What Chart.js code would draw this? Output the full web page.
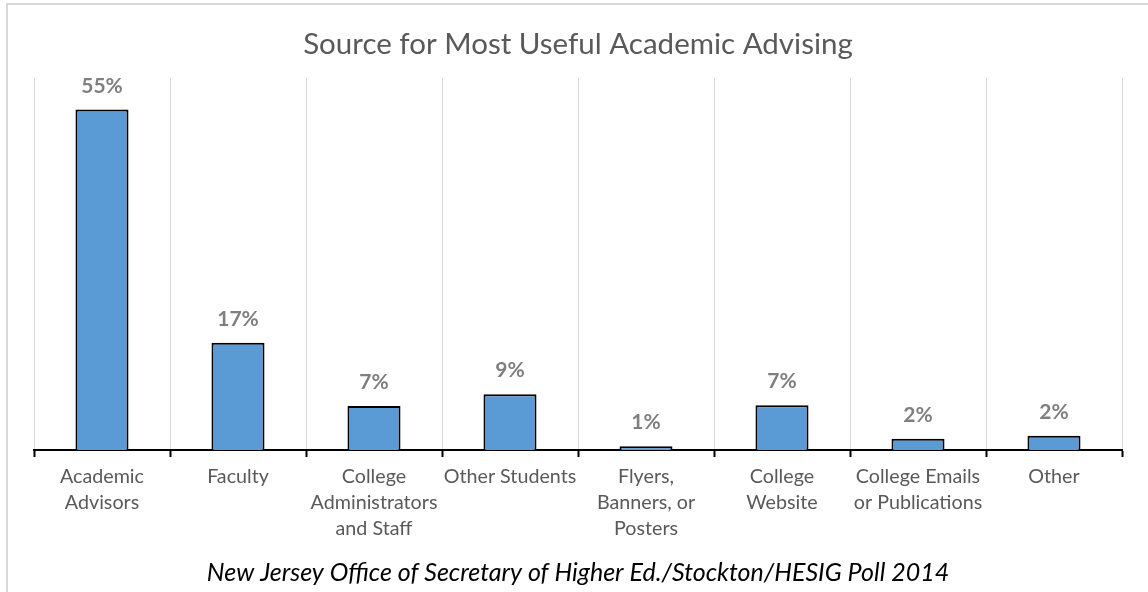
<!DOCTYPE html>
<html><head><meta charset="utf-8">
<script src="https://cdn.jsdelivr.net/npm/chart.js@4"></script>
<style>
html,body{margin:0;padding:0;background:#fff;overflow:hidden;width:1148px;height:592px}
#frame{position:absolute;left:6px;top:3px;width:1300px;height:800px;border-left:2px solid #d9d9d9;border-top:2px solid #d9d9d9;}
#wrap{position:absolute;left:0;top:0;width:1148px;height:592px}
</style></head>
<body>
<div id="frame"></div>
<div id="wrap"><canvas id="c" width="1148" height="592"></canvas></div>
<script>
const chartTitle = "Source for Most Useful Academic Advising";
const sourceNote = "New Jersey Office of Secretary of Higher Ed./Stockton/HESIG Poll 2014";
const categories = [
  ["Academic","Advisors"],
  ["Faculty"],
  ["College","Administrators","and Staff"],
  ["Other Students"],
  ["Flyers,","Banners, or","Posters"],
  ["College","Website"],
  ["College Emails","or Publications"],
  ["Other"]
];
const shares = [54.9, 17.3, 7.1, 9.0, 0.6, 7.2, 1.8, 2.3];
const axisMin = 0;
const axisMax = 60;

const dataLabels = {
  id: 'dataLabels',
  afterDatasetsDraw(chart) {
    const ctx = chart.ctx;
    const meta = chart.getDatasetMeta(0);
    ctx.save();
    ctx.font = 'bold 21px Lato';
    ctx.fillStyle = '#7f7f7f';
    ctx.textAlign = 'center';
    ctx.textBaseline = 'alphabetic';
    meta.data.forEach((bar, i) => {
      ctx.fillText(Math.round(shares[i]) + '%', bar.x, bar.y - 17);
    });
    ctx.restore();
  }
};

new Chart(document.getElementById('c'), {
  type: 'bar',
  data: {
    labels: categories,
    datasets: [{
      data: shares,
      backgroundColor: '#5b9bd5',
      borderColor: '#000000',
      borderWidth: 2,
      categoryPercentage: 1,
      barPercentage: 0.39
    }]
  },
  options: {
    responsive: false,
    devicePixelRatio: 1,
    animation: false,
    layout: { padding: { left: 34, right: 26, top: 0, bottom: 0 } },
    plugins: {
      legend: { display: false },
      tooltip: { enabled: false },
      title: {
        display: true,
        text: chartTitle,
        color: '#595959',
        font: { family: 'Lato', size: 29.5, weight: 'normal', lineHeight: 1.2 },
        padding: { top: 27, bottom: 15.6 }
      },
      subtitle: {
        display: true,
        position: 'bottom',
        text: sourceNote,
        color: '#000000',
        font: { family: 'Lato', size: 25, style: 'italic', weight: 'normal', lineHeight: 1.2 },
        padding: { top: 0, bottom: 4 }
      }
    },
    scales: {
      x: {
        grid: { offset: true, color: '#d9d9d9', lineWidth: 1, tickLength: 7, tickColor: '#000000', tickWidth: 2 },
        border: { color: '#000000', width: 2 },
        ticks: { color: '#595959', font: { family: 'Lato', size: 19.7, lineHeight: 1.32 }, padding: 7, maxRotation: 0, autoSkip: false },
        afterFit(scale) { scale.height = 108; }
      },
      y: { display: false, min: axisMin, max: axisMax }
    }
  },
  plugins: [dataLabels]
});
</script>
</body></html>
